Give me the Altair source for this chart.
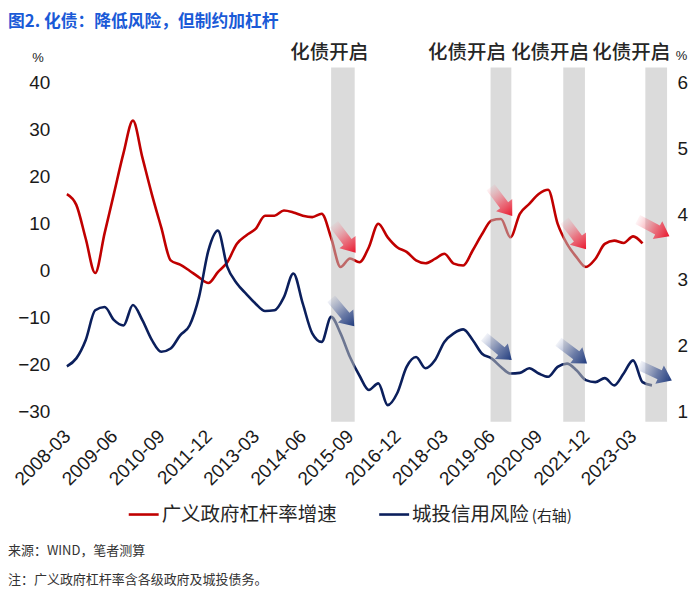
import altair as alt
import pandas as pd

# ---------------- data ----------------
tick_idx = [0, 5, 10, 15, 20, 25, 30, 35, 40, 45, 50, 55, 60]
tick_labels = ["2008-03", "2009-06", "2010-09", "2011-12", "2013-03", "2014-06",
               "2015-09", "2016-12", "2018-03", "2019-06", "2020-09", "2021-12", "2023-03"]

# 广义政府杠杆率增速 (%), quarterly from 2008-03
red_growth = [16.3, 14.0, 6.8, -0.5, 8.0, 16.5, 25.0, 31.9, 24.1, 16.3,
              9.2, 2.2, 1.3, 0.0, -1.4, -2.6, -0.3, 1.8, 5.7, 7.5,
              8.9, 11.7, 11.7, 12.8, 12.4, 11.7, 11.4, 12.1, 7.0, 0.8,
              2.6, 1.8, 5.0, 10.0, 7.1, 5.0, 4.0, 2.2, 1.6, 2.5,
              3.6, 1.5, 1.1, 4.3, 7.8, 10.7, 11.0, 7.1, 12.1, 14.2,
              16.3, 17.2, 10.0, 5.7, 2.9, 0.8, 2.5, 5.7, 6.4, 5.9,
              7.3, 5.8]
# 城投信用风险 (右轴)
blue_risk = [1.69, 1.81, 2.09, 2.54, 2.59, 2.39, 2.31, 2.62, 2.39, 2.09,
             1.91, 1.96, 2.16, 2.31, 2.74, 3.45, 3.75, 3.20, 2.95, 2.79,
             2.64, 2.53, 2.54, 2.74, 3.10, 2.64, 2.19, 2.06, 2.44, 2.19,
             1.83, 1.55, 1.33, 1.43, 1.10, 1.28, 1.68, 1.83, 1.66, 1.78,
             2.06, 2.19, 2.25, 2.09, 1.88, 1.81, 1.68, 1.58, 1.59, 1.66,
             1.58, 1.53, 1.68, 1.73, 1.63, 1.48, 1.45, 1.51, 1.40, 1.58,
             1.78, 1.45, 1.40]

band_start = [28.0, 44.9, 52.6, 61.3]
band_end = [30.5, 47.1, 54.9, 63.6]
band_label = ["化债开启", "化债开启", "化债开启", "化债开启"]
band_label_x = [27.8, 42.4, 51.2, 59.8]

red_arrow_x = [29.45, 46.05, 53.87, 62.17]
red_arrow_y = [6.85, 14.7, 7.6, 9.1]
red_arrow_angle = [53, 53, 53, 28]
blue_arrow_x = [29.23, 45.68, 53.6, 62.38]
blue_arrow_y = [-8.9, -16.5, -17.4, -21.7]
blue_arrow_angle = [50, 40, 37, 25]

left_ticks = [-30, -20, -10, 0, 10, 20, 30, 40]
right_ticks = [1, 2, 3, 4, 5, 6]

# ---------------- layout / style ----------------
W, H = 601.5, 355
X_DOMAIN = [0, 63.6]
LEFT_DOMAIN = [-32.1, 43.2]
RIGHT_DOMAIN = [0.848, 6.227]
NUM_FONT = "Liberation Sans"
CJK_FONT = "Noto Sans CJK SC"
RED = "#c00000"
NAVY = "#0b1f5c"

red_df = pd.DataFrame({"idx": list(range(len(red_growth))), "v": red_growth})
blue_df = pd.DataFrame({"idx": list(range(len(blue_risk))), "v": blue_risk})
band_df = pd.DataFrame({"s": band_start, "e": band_end, "lab": band_label, "lx": band_label_x})
red_arrow_df = pd.DataFrame({"x": red_arrow_x, "y": red_arrow_y, "a": red_arrow_angle})
blue_arrow_df = pd.DataFrame({"x": blue_arrow_x, "y": blue_arrow_y, "a": blue_arrow_angle})

label_expr = "[" + ",".join("'%s'" % t for t in tick_labels) + "][round(datum.value/5)]"

x_enc = alt.X("idx:Q", scale=alt.Scale(domain=X_DOMAIN, nice=False, zero=False),
              axis=alt.Axis(values=tick_idx, labelExpr=label_expr, labelAngle=-45,
                            labelAlign="right", labelBaseline="middle",
                            labelFontSize=19, labelFont=NUM_FONT, labelColor="#1a1a1a",
                            labelPadding=11, domain=False, ticks=False, grid=False,
                            labelOverlap=False, labelBound=False, title=None))

red_line = alt.Chart(red_df).mark_line(color=RED, strokeWidth=2.6, interpolate="monotone").encode(
    x=x_enc,
    y=alt.Y("v:Q", scale=alt.Scale(domain=LEFT_DOMAIN, nice=False, zero=False),
            axis=alt.Axis(orient="left", values=left_ticks, labelFontSize=19, labelFont=NUM_FONT,
                          labelColor="#1a1a1a", labelPadding=17, domain=False, ticks=False,
                          grid=False, title=None)),
)

blue_line = alt.Chart(blue_df).mark_line(color=NAVY, strokeWidth=2.6, interpolate="monotone").encode(
    x=alt.X("idx:Q"),
    y=alt.Y("v:Q", scale=alt.Scale(domain=RIGHT_DOMAIN, nice=False, zero=False),
            axis=alt.Axis(orient="right", values=right_ticks, labelFontSize=19, labelFont=NUM_FONT,
                          labelColor="#1a1a1a", labelPadding=10, domain=False, ticks=False,
                          grid=False, title=None)),
)

bands = alt.Chart(band_df).mark_rect(color="#bdbdbd", opacity=0.55).encode(
    x=alt.X("s:Q"), x2="e:Q", y=alt.value(0), y2=alt.value(H)
)

band_text = alt.Chart(band_df).mark_text(font=CJK_FONT, fontSize=19.5, color="#262626",
                                         align="center", baseline="middle", fontWeight=500).encode(
    x=alt.X("lx:Q"), y=alt.value(-15), text="lab:N"
)

ARROW = "M-1,-0.28 L0.25,-0.28 L0.25,-0.56 L1,0 L0.25,0.56 L0.25,0.28 L-1,0.28 Z"

red_grad = alt.Gradient(gradient="linear", x1=0, y1=0, x2=1, y2=0,
                        stops=[alt.GradientStop(offset=0, color="rgba(245,120,135,0.08)"),
                               alt.GradientStop(offset=0.55, color="rgba(240,60,80,0.65)"),
                               alt.GradientStop(offset=1, color="#e8152b")])
blue_grad = alt.Gradient(gradient="linear", x1=0, y1=0, x2=1, y2=0,
                         stops=[alt.GradientStop(offset=0, color="rgba(90,110,170,0.08)"),
                                alt.GradientStop(offset=0.55, color="rgba(50,75,140,0.65)"),
                                alt.GradientStop(offset=1, color="#1f3a7c")])

def arrows(df, grad):
    return alt.Chart(df).mark_point(shape=ARROW, filled=True, fill=grad, strokeWidth=0,
                                    opacity=1, size=1300).encode(
        x=alt.X("x:Q"),
        y=alt.Y("y:Q", scale=alt.Scale(domain=LEFT_DOMAIN, nice=False, zero=False), axis=None),
        angle=alt.Angle("a:Q", scale=None),
    )

def label(txt, x, y, size, font=CJK_FONT, color="#333333", weight="normal", align="left"):
    return alt.Chart(pd.DataFrame({"t": [txt]})).mark_text(
        font=font, fontSize=size, color=color, fontWeight=weight, align=align, baseline="middle"
    ).encode(x=alt.value(x), y=alt.value(y), text="t:N")

def legend_line(x1, x2, y, color):
    return alt.Chart(pd.DataFrame({"k": [0]})).mark_rule(color=color, strokeWidth=2.6).encode(
        x=alt.value(x1), x2=alt.value(x2), y=alt.value(y))

title = label("图2. 化债：降低风险，但制约加杠杆", -59, -46, 16.8, color="#1a5ad7", weight="bold")
pct_l = label("%", -29, -10, 13, font=NUM_FONT, color="#222222", align="center")
pct_r = label("%", 616, -12, 13, font=NUM_FONT, color="#222222", align="center")
leg1_line = legend_line(62, 92, 448, RED)
leg1_txt = label("广义政府杠杆率增速", 95, 448, 19.5, color="#262626")
leg2_line = legend_line(313, 343, 448, NAVY)
leg2_txt = label("城投信用风险", 346, 448, 19.5, color="#262626")
leg2_sub = label("(右轴)", 466, 449, 15, color="#262626")
src = label("来源：WIND，笔者测算", -59, 485, 13)
note = label("注：广义政府杠杆率含各级政府及城投债务。", -59, 514, 13)

chart = alt.layer(
    red_line, blue_line, bands, band_text,
    arrows(red_arrow_df, red_grad), arrows(blue_arrow_df, blue_grad),
    title, pct_l, pct_r, leg1_line, leg1_txt, leg2_line, leg2_txt, leg2_sub, src, note,
).resolve_scale(y="independent").properties(
    width=W, height=H,
    autosize=alt.AutoSizeParams(type="none"),
    padding={"left": 59, "top": 59, "right": 25, "bottom": 165},
    background="white",
).configure_view(stroke=None)

chart.save("out.html", embed_options={"renderer": "svg", "actions": False})
